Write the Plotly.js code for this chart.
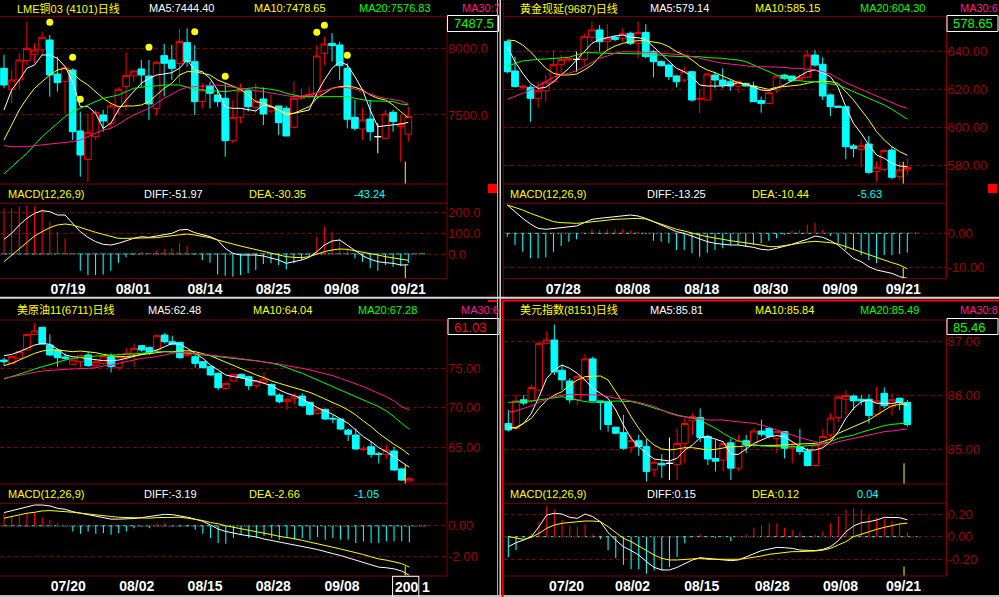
<!DOCTYPE html>
<html>
<head>
<meta charset="utf-8">
<script src="https://cdn.plot.ly/plotly-3.0.1.min.js"></script>
<style>
html,body{margin:0;padding:0;background:#000;overflow:hidden;}
#chart{width:999px;height:597px;}
</style>
</head>
<body>
<div id="chart"></div>
<script>
// ===================== DATA =====================
// ---- Top-left: LME铜03 ----
const tlOpen  = [7850,7692.5,7762.5,7907.5,7955,7987.5,8062.5,7807.5,7750,7837.5,7380,7167.5,7337.5,7500,7437.5,7562.5,7712.5,7792.5,7845,7792.5,7550,7945,7912.5,7887.5,8042.5,7900,7600,7717.5,7650,7625,7307.5,7482.5,7682.5,7555,7620,7530,7567.5,7550,7407.5,7625,7637.5,7650,7962.5,8037.5,8025,7850,7482.5,7395,7470,7337.5,7325,7520,7412.5,7355];
const tlHigh  = [7950,7837.5,7962.5,8200,8037.5,8125,8100,7937.5,7875,7850,7525,7512.5,7537.5,7537.5,7587.5,7707.5,7970,7837.5,7912.5,7912.5,7905,8032.5,8025,8145,8150,8025,7737.5,7750,7687.5,7737.5,7612.5,7737.5,7687.5,7737.5,7707.5,7650,7567.5,7567.5,7750,7700,7712.5,8025,8087.5,8112.5,8050,7887.5,7612.5,7550,7612.5,7437.5,7537.5,7537.5,7500,7562.5];
const tlLow   = [7700,7587.5,7687.5,7875,7887.5,7950,7637.5,7675,7512.5,7312.5,7037.5,7000,7312.5,7375,7400,7500,7537.5,7750,7712.5,7462.5,7500,7637.5,7762.5,7737.5,7862.5,7500,7550,7550,7562.5,7187.5,7287.5,7437.5,7525,7512.5,7425,7512.5,7350,7342.5,7400,7612.5,7625,7637.5,7875,7900,7762.5,7400,7382.5,7312.5,7307.5,7212.5,7317.5,7375,7150,7300];
const tlClose = [7725,7762.5,7912.5,8000,7987.5,8082.5,7800,7742.5,7855,7375,7200,7370,7520,7455,7567.5,7692.5,7795,7830,7800,7582.5,7895,7887.5,7850,8050,7900,7600,7687.5,7662.5,7600,7307.5,7482.5,7682.5,7562.5,7605,7507.5,7562.5,7442.5,7342.5,7625,7637.5,7655,7942.5,8032.5,8020,7870,7467.5,7400,7462.5,7375,7337.5,7507.5,7450,7432.5,7487.5];
const tlMA5   = [7537.5,7687.5,7762.5,7850,7875,7950,7950,7925,7862.5,7750,7562.5,7562.5,7512.5,7400,7437.5,7537.5,7612.5,7675,7737.5,7775,7800,7807.5,7817.5,7850,7912.5,7837.5,7825,7775,7687.5,7557.5,7550,7550,7537.5,7530,7575,7562.5,7537.5,7500,7512.5,7525,7537.5,7662.5,7762.5,7850,7900,7875,7787.5,7687.5,7537.5,7412.5,7417.5,7425,7432.5,7444.4];
const tlMA10  = [7312.5,7425,7537.5,7625,7700,7750,7800,7837.5,7850,7812.5,7762.5,7725,7675,7625,7587.5,7562.5,7567.5,7567.5,7575,7600,7650,7700,7737.5,7800,7825,7825,7812.5,7800,7762.5,7737.5,7712.5,7692.5,7650,7600,7587.5,7567.5,7537.5,7512.5,7512.5,7537.5,7562.5,7625,7662.5,7700,7712.5,7717.5,7707.5,7687.5,7650,7625,7612.5,7575,7525,7478.65];
const tlMA20  = [7057.5,7112.5,7162.5,7212.5,7275,7337.5,7387.5,7437.5,7487.5,7525,7550,7575,7600,7625,7637.5,7650,7675,7700,7707.5,7717.5,7717.5,7725,7725,7725,7707.5,7692.5,7687.5,7682.5,7675,7675,7682.5,7692.5,7700,7705,7700,7692.5,7682.5,7662.5,7650,7637.5,7637.5,7637.5,7642.5,7642.5,7642.5,7637.5,7625,7612.5,7605,7605,7605,7600,7582.5,7576.83];
const tlMA30  = [7270,7262.5,7262.5,7262.5,7270,7275,7282.5,7287.5,7295,7300,7312.5,7337.5,7362.5,7387.5,7400,7430,7467.5,7500,7525,7550,7587.5,7625,7655,7687.5,7707.5,7712.5,7717.5,7725,7725,7717.5,7707.5,7700,7692.5,7682.5,7675,7662.5,7655,7645,7637.5,7642.5,7650,7667.5,7682.5,7700,7707.5,7705,7695,7675,7655,7637.5,7625,7612.5,7605,7582.5];
const tlDiff  = [70.4,99.2,139.2,171.2,195.2,208,203.2,187.2,187.2,147.2,107.2,80,59.2,46.4,43.2,51.2,64,75.2,83.2,80,86.4,91.2,99.2,115.2,118.4,102.4,91.2,83.2,67.2,27.2,3.2,-4.8,-4.8,-4.8,-9.6,-20.8,-28.8,-44.8,-36.8,-28.8,-16,11.2,43.2,62.4,67.2,43.2,16,-8,-25.6,-36.8,-41.6,-44.8,-52.8,-51.97];
const tlDea   = [-36.8,-4.8,27.2,59.2,86.4,107.2,126.4,139.2,144,139.2,126.4,115.2,104,94.4,83.2,75.2,75.2,75.2,78.4,75.2,78.4,83.2,88,94.4,96,91.2,86.4,78.4,67.2,56,48,38.4,30.4,22.4,11.2,3.2,-4.8,-12.8,-16,-17.6,-12.8,0,11.2,19.2,24,22.4,16,11.2,3.2,-4.8,-12.8,-17.6,-25.6,-30.35];
const tlMacd  = [219,219,227,230,227,214,155,107,75,5,-80,-101,-101,-98,-80,-42,-16,-5,11,6,16,24,27,51,40,-2,-29,-42,-98,-104,-109,-101,-93,-77,-48,-45,-53,-74,-45,-29,-10,83,131,104,75,27,-21,-37,-69,-80,-53,-61,-58,-43.24];
const tlSignalIdx   = [6,9,10,19,25,29,41,42,45];
const tlSignalPrice = [8195,7932.5,7617.5,8007.5,8125,7790,8120,8172.5,7947.5];
const tlTickPos  = [8.4,16.95,26.35,35.3,44.25,53];
const tlTickText = ['07/19','08/01','08/14','08/25','09/08','09/21'];
const tlPriceTicks = [8000,7500];
const tlMacdTicks  = [200,100,0];
const tlHeader = ['LME铜03 (4101)日线','MA5:7444.40','MA10:7478.65','MA20:7576.83','MA30:7'];
const tlMacdHeader = ['MACD(12,26,9)','DIFF:-51.97','DEA:-30.35','-43.24'];
const tlLast = '7487.5';
const tlCursor = [52.6, 7150, -52.8];

// ---- Top-right: 黄金现延 ----
const trOpen  = [645.3,629.8,621.1,621.1,615.3,619.3,624.1,633.3,635.6,635.9,635.9,647.6,651.5,645.3,647.6,647.1,649.7,644.4,650.2,640.0,634.7,632.9,627.1,625.0,629.4,614.8,614.4,627.6,625.0,624.1,621.8,623.2,621.8,614.1,612.6,619.7,627.6,627.1,625.4,626.4,638.2,633.3,617.1,611.2,610.9,590.1,588.3,591.1,576.5,577.7,587.9,573.8,577.4];
const trHigh  = [646.2,637.4,622.3,622.3,624.1,627.6,640.9,638.2,637.0,640.0,649.7,655.9,654.1,654.6,648.5,652.3,650.6,655.9,654.6,640.9,635.6,633.8,627.6,632.1,629.4,620.1,628.5,629.4,631.2,625.0,625.0,623.6,624.1,616.2,618.8,627.6,628.2,627.1,628.2,640.9,640.9,637.0,617.9,611.2,610.9,591.1,593.6,595.4,581.8,588.3,589.7,581.8,583.5];
const trLow   = [628.5,621.1,620.1,602.9,610.5,613.5,623.2,627.6,634.7,629.4,632.9,645.3,640.0,640.0,645.5,645.3,643.5,636.5,636.5,626.4,632.1,625.0,621.1,623.6,613.5,607.4,614.1,620.6,620.6,619.3,618.3,621.5,613.5,607.7,612.3,618.3,625.0,624.1,624.6,625.9,632.1,614.4,605.9,610.5,583.0,584.1,579.1,575.2,571.2,576.5,572.4,572.1,574.7];
const trClose = [629.4,621.5,621.8,615.3,619.3,623.8,633.3,635.9,636.3,635.9,647.9,651.5,645.3,647.1,646.5,649.7,644.4,650.2,637.4,634.7,632.6,626.8,624.1,629.4,614.4,615.3,628.2,625.0,622.3,621.8,624.1,621.8,613.5,612.6,618.3,627.1,625.9,624.6,626.4,638.2,632.9,616.5,610.9,610.5,589.7,588.8,590.2,576.1,578.8,587.6,573.5,577.4,578.65];
const trMA5   = [642.64,634.70,628.53,623.23,620.59,621.11,624.11,627.64,631.17,635.59,640.00,644.41,646.53,647.59,648.29,648.82,647.59,647.41,646.53,642.64,638.76,634.70,631.17,629.41,626.76,622.35,621.82,621.82,621.82,622.35,623.59,622.88,621.11,619.70,619.35,620.59,622.35,624.64,627.11,629.41,630.29,628.88,626.76,621.11,610.88,602.06,596.76,590.59,585.29,583.53,580.88,579.47,579.14];
const trMA10  = [646.17,645.82,643.53,640.00,635.59,631.17,628.53,627.64,627.64,628.17,630.29,632.94,637.35,640.88,643.00,644.41,645.29,645.82,645.82,645.29,644.41,642.64,640.00,638.23,635.59,632.41,630.29,628.88,627.11,625.00,623.59,622.70,621.82,620.59,620.06,621.11,621.47,621.82,622.35,623.23,624.11,624.11,624.11,623.23,618.82,614.41,609.12,603.82,597.64,593.23,589.70,587.06,585.15];
const trMA20  = [632.06,633.82,635.06,635.59,635.94,636.12,636.47,636.47,637.00,638.23,639.47,639.47,639.11,639.11,639.11,639.11,639.11,639.11,638.76,638.23,638.23,637.70,637.35,637.35,637.35,637.35,636.82,636.82,636.47,635.94,635.59,634.70,632.94,631.17,629.41,627.64,626.41,625.00,624.64,624.11,624.11,623.59,623.23,622.35,620.59,618.82,617.06,615.29,613.53,611.76,609.47,606.99,604.30];
const trMA30  = [614.76,616.17,617.94,619.70,621.82,624.11,626.41,627.64,628.53,629.94,632.06,634.35,636.47,637.70,639.11,640.00,640.00,639.65,639.65,639.47,639.11,639.11,638.76,638.23,637.35,636.47,635.59,634.70,633.82,633.47,632.94,632.41,632.06,632.06,632.06,631.70,631.70,631.17,631.17,630.64,630.29,629.41,628.17,625.88,623.59,621.82,620.06,617.94,616.17,614.41,612.65,611.24,610.00];
const trDiff  = [8.33,6.37,4.41,2.74,1.47,1.18,1.47,1.76,1.96,2.16,3.14,4.12,4.41,4.70,4.90,5.19,5.39,5.10,4.41,3.43,2.45,1.47,0.49,0,-0.78,-1.76,-2.45,-2.94,-3.23,-3.43,-3.43,-3.72,-4.12,-4.70,-4.90,-4.41,-3.92,-3.23,-2.45,-1.76,-0.78,-1.18,-2.16,-3.43,-5.39,-7.35,-8.33,-9.80,-10.78,-11.27,-11.76,-12.74,-13.25];
const trDea   = [8.33,7.64,6.86,5.88,5.10,4.12,3.43,3.14,2.94,2.94,3.14,3.43,3.72,3.92,4.12,4.21,4.41,4.41,4.21,3.43,2.74,1.96,1.18,0.69,0,-0.49,-0.98,-1.47,-1.76,-2.16,-2.45,-2.74,-3.14,-3.43,-3.92,-3.92,-3.63,-3.23,-2.94,-2.55,-2.35,-2.45,-2.74,-3.14,-3.92,-4.90,-5.68,-6.37,-7.06,-7.84,-8.62,-9.31,-10.44];
const trMacd  = [-1.0,-3.43,-5.39,-7.35,-7.35,-7.06,-5.39,-3.72,-2.45,-1.76,0,1.18,0.98,1.18,1.27,1.18,0.78,0.49,-0.29,-2.16,-2.5,-2.94,-4.9,-4.9,-5.88,-6.86,-5.68,-4.9,-4.41,-3.43,-3.43,-3.92,-3.43,-2.94,-2.16,-1.47,-0.49,0.78,0.98,2.45,3.14,0.98,-0.78,-2.94,-4.9,-4.9,-6.37,-7.84,-8.82,-6.37,-6.37,-6.08,-5.63];
const trTickPos  = [7.28,16.3,25.27,34.24,43.25,51.48];
const trTickText = ['07/28','08/08','08/18','08/30','09/09','09/21'];
const trPriceTicks = [640,620,600,580];
const trMacdTicks  = [0,-10];
const trHeader = ['黄金现延(9687)日线','MA5:579.14','MA10:585.15','MA20:604.30','MA30:6'];
const trMacdHeader = ['MACD(12,26,9)','DIFF:-13.25','DEA:-10.44','-5.63'];
const trLast = '578.65';
const trCursor = [51.47, 581.8, -10.2];

// ---- Bottom-left: 美原油11 ----
const blOpen  = [76.05,75.63,76.27,77.32,79.30,80.19,77.95,77.32,76.44,75.51,75.84,76.69,75.34,75.63,76.48,75.08,76.35,76.90,77.87,77.62,77.32,79.22,78.38,78.29,76.60,76.48,75.84,75.21,74.37,72.47,73.40,74.24,73.94,72.81,73.23,72.97,71.62,70.78,71.20,71.50,70.70,69.30,69.81,68.67,68.59,67.19,66.56,64.71,65.08,64.20,64.11,64.54,62.26,60.74];
const blHigh  = [76.35,76.60,77.19,79.43,80.70,80.27,79.30,77.45,76.90,76.27,76.77,77.11,76.05,76.69,76.90,76.90,77.53,78.16,77.95,77.74,79.30,79.43,79.13,78.38,77.19,76.69,75.93,75.34,74.49,73.23,74.28,74.37,74.07,73.52,74.49,73.10,71.84,71.20,71.84,71.84,70.78,69.94,69.94,69.09,68.67,67.40,67.40,65.21,65.72,64.45,65.30,65.08,62.43,61.29];
const blLow   = [75.42,75.55,76.18,77.19,79.22,77.95,76.60,75.21,76.05,75.42,75.08,75.21,75.21,75.42,74.49,74.79,76.05,75.21,77.11,76.69,77.03,78.16,77.95,76.18,76.48,75.08,75.00,74.07,72.26,72.26,73.31,73.65,72.26,72.47,73.10,71.54,70.57,69.73,70.44,70.15,69.01,69.09,68.46,68.04,67.19,65.80,64.66,64.54,63.69,62.97,63.52,62.00,60.74,60.65];
const blClose = [75.84,76.48,77.11,79.30,79.73,78.08,76.69,76.35,76.27,76.05,76.60,75.34,75.84,76.56,75.21,76.48,76.90,77.53,77.32,77.03,79.13,78.38,78.04,76.35,76.90,75.63,75.08,74.16,72.55,73.10,74.24,73.82,72.81,73.40,73.65,71.62,70.78,71.08,71.50,70.27,69.18,69.85,68.59,68.59,67.32,66.65,64.79,64.79,64.11,64.11,64.66,62.13,60.86,61.03];
const blMA5   = [76.60,76.77,77.11,77.53,77.95,78.16,78.04,77.45,76.69,76.48,76.35,76.27,76.05,75.97,75.97,76.05,76.27,76.48,76.77,77.03,77.32,77.74,78.16,78.04,77.53,76.90,76.27,75.42,74.79,74.16,73.94,73.82,73.52,73.40,73.10,72.81,72.26,71.84,71.54,71.12,70.57,70.02,69.60,69.18,68.59,68.04,67.19,66.35,65.72,64.96,64.45,63.82,63.19,62.48];
const blMA10  = [75.34,75.63,76.05,76.48,76.90,77.19,77.32,77.32,77.19,77.11,77.19,77.11,76.98,76.77,76.60,76.48,76.48,76.60,76.77,76.90,77.03,77.11,77.11,77.19,77.24,77.11,76.90,76.60,76.18,75.76,75.34,74.92,74.49,74.16,73.82,73.40,73.10,72.81,72.60,72.26,71.96,71.54,71.12,70.70,70.23,69.73,69.09,68.33,67.62,66.77,66.06,65.38,64.79,64.04];
const blMA20  = [73.65,73.94,74.24,74.58,74.92,75.21,75.51,75.76,76.05,76.27,76.39,76.48,76.56,76.60,76.69,76.77,76.81,76.81,76.90,77.03,77.11,77.11,77.11,77.03,76.90,76.77,76.69,76.60,76.48,76.35,76.27,76.14,76.05,75.97,75.84,75.63,75.42,75.08,74.79,74.37,73.94,73.52,73.10,72.68,72.26,71.84,71.41,70.99,70.57,70.15,69.60,68.88,68.04,67.28];
const blMA30  = [73.73,73.94,74.16,74.28,74.49,74.66,74.70,74.79,74.87,74.92,74.92,75.00,75.08,75.30,75.42,75.63,75.84,76.05,76.27,76.35,76.48,76.69,76.90,77.03,77.03,76.90,76.77,76.69,76.56,76.48,76.35,76.27,76.14,75.97,75.84,75.72,75.55,75.34,75.21,75.00,74.79,74.58,74.37,74.07,73.73,73.40,73.10,72.68,72.26,71.84,71.41,70.87,70.15,69.73];
const blDiff  = [0.85,0.98,1.06,1.23,1.34,1.34,1.28,1.13,1.06,0.91,0.81,0.74,0.64,0.55,0.43,0.43,0.43,0.47,0.53,0.60,0.70,0.74,0.72,0.64,0.55,0.43,0.28,0.06,-0.21,-0.36,-0.47,-0.57,-0.64,-0.72,-0.85,-0.94,-1.06,-1.15,-1.21,-1.32,-1.43,-1.53,-1.64,-1.79,-1.91,-2.06,-2.21,-2.38,-2.55,-2.66,-2.70,-2.77,-2.91,-3.19];
const blDea   = [0.49,0.60,0.70,0.81,0.87,0.96,0.98,0.96,0.91,0.87,0.81,0.74,0.70,0.64,0.60,0.55,0.53,0.49,0.49,0.49,0.53,0.55,0.55,0.55,0.49,0.43,0.34,0.21,0.13,0,-0.09,-0.21,-0.30,-0.40,-0.47,-0.57,-0.68,-0.74,-0.83,-0.94,-1.04,-1.15,-1.26,-1.38,-1.49,-1.60,-1.70,-1.85,-2.00,-2.13,-2.21,-2.34,-2.43,-2.66];
const blMacd  = [0.81,0.64,0.64,0.81,0.91,0.55,0.38,0.17,0.02,-0.36,-0.51,-0.36,-0.51,-0.47,-0.57,-0.47,-0.36,-0.15,-0.04,-0.15,0.17,0.17,0.02,-0.04,-0.04,-0.26,-0.51,-0.79,-1.11,-1.15,-0.79,-0.57,-0.79,-0.79,-0.64,-0.79,-0.89,-0.79,-0.89,-0.79,-0.89,-0.72,-0.89,-0.79,-0.89,-0.89,-1.11,-1.0,-1.11,-1.11,-1.0,-1.0,-1.0,-1.05];
const blTickPos  = [8.4,17.35,26.3,35.2,44.2];
const blTickText = ['07/20','08/02','08/15','08/28','09/08'];
const blPriceTicks = [75,70,65];
const blMacdTicks  = [0,-2];
const blHeader = ['美原油11(6711)日线','MA5:62.48','MA10:64.04','MA20:67.28','MA30:6'];
const blMacdHeader = ['MACD(12,26,9)','DIFF:-3.19','DEA:-2.66','-1.05'];
const blLast = '61.03';
const blCursor = [52.46, 62.76, -2.6];
const blDateBox = ['200','1'];

// ---- Bottom-right: 美元指数 ----
const brOpen  = [85.48,85.39,85.92,85.90,86.10,86.97,87.03,86.47,86.27,85.92,86.29,86.68,85.90,85.89,85.41,85.31,85.03,85.16,85.05,84.62,84.74,84.74,84.72,85.11,85.53,85.59,85.24,84.83,84.80,85.12,84.65,85.16,85.08,85.34,85.39,85.20,85.33,85.02,85.05,84.97,84.70,85.08,85.27,85.59,85.93,85.99,85.93,85.93,85.65,86.04,85.79,85.95,85.87];
const brHigh  = [85.73,86.02,86.01,86.20,87.00,87.19,87.32,86.57,86.32,86.38,86.77,86.72,85.90,85.90,85.42,85.64,85.27,85.27,85.19,84.80,84.91,85.22,85.39,85.59,85.67,85.76,85.27,85.17,85.14,85.20,85.27,85.27,85.39,85.55,85.40,85.34,85.34,85.14,85.38,85.02,85.11,85.38,85.67,86.01,86.10,86.02,86.01,86.02,86.16,86.15,86.04,85.96,85.92];
const brLow   = [85.33,85.36,85.82,85.86,86.07,86.95,86.38,86.10,85.86,85.82,86.26,85.89,85.36,85.33,85.28,84.99,84.93,84.88,84.40,84.49,84.47,84.43,84.43,84.74,85.27,85.14,84.71,84.59,84.59,84.43,84.60,84.93,85.02,85.24,85.20,84.93,84.83,84.74,84.90,84.68,84.68,85.05,85.14,85.51,85.64,85.73,85.82,85.48,85.61,85.76,85.63,85.73,85.42];
const brClose = [85.36,85.90,85.86,86.15,86.97,87.03,86.44,86.29,85.92,86.35,86.68,85.90,85.87,85.46,85.30,85.02,85.16,85.05,84.59,84.76,84.71,84.74,85.11,85.48,85.61,85.22,84.82,84.78,85.11,84.65,85.16,85.09,85.34,85.28,85.24,85.33,85.02,85.05,84.96,84.70,85.08,85.24,85.58,85.97,86.00,85.90,85.90,85.63,85.90,85.81,85.92,85.87,85.46];
const brMA5   = [85.421,85.390,85.483,85.669,85.978,86.319,86.474,86.567,86.505,86.412,86.288,86.133,86.040,85.947,85.731,85.452,85.204,85.050,84.926,84.820,84.802,84.784,84.833,84.988,85.080,85.217,85.235,85.192,85.142,84.907,84.907,85.006,85.111,85.173,85.235,85.254,85.235,85.142,85.050,84.988,84.988,85.031,85.142,85.328,85.576,85.762,85.886,85.917,85.855,85.855,85.855,85.873,85.81];
const brMA10  = [85.390,85.409,85.483,85.576,85.762,85.917,86.009,86.071,86.195,86.288,86.350,86.362,86.362,86.288,86.071,85.855,85.607,85.390,85.204,85.080,85.006,84.988,85.006,85.031,85.031,85.006,84.988,85.000,85.018,85.050,85.050,85.068,85.080,85.068,85.068,85.080,85.080,85.093,85.099,85.099,85.111,85.142,85.192,85.297,85.359,85.421,85.483,85.545,85.638,85.731,85.811,85.836,85.84];
const brMA20  = [85.873,85.873,85.886,85.898,85.917,85.935,85.960,85.978,85.947,85.917,85.886,85.873,85.873,85.886,85.898,85.898,85.886,85.855,85.811,85.762,85.712,85.669,85.638,85.607,85.576,85.545,85.464,85.390,85.297,85.217,85.155,85.111,85.080,85.062,85.050,85.050,85.050,85.050,85.050,85.068,85.080,85.111,85.142,85.204,85.235,85.266,85.316,85.359,85.402,85.440,85.464,85.483,85.49];
const brMA30  = [85.687,85.712,85.762,85.805,85.873,85.935,85.978,86.009,86.022,86.022,86.022,86.022,86.009,85.978,85.947,85.917,85.898,85.873,85.836,85.793,85.731,85.669,85.625,85.607,85.576,85.563,85.545,85.545,85.545,85.526,85.514,85.495,85.483,85.452,85.402,85.359,85.316,85.266,85.217,85.173,85.142,85.111,85.093,85.142,85.173,85.204,85.235,85.266,85.297,85.328,85.341,85.359,85.378];
const brDiff  = [-0.089,-0.053,-0.030,0,0.089,0.193,0.207,0.201,0.172,0.163,0.201,0.178,0.133,0.036,-0.030,-0.089,-0.124,-0.163,-0.222,-0.273,-0.296,-0.296,-0.273,-0.237,-0.207,-0.187,-0.193,-0.201,-0.201,-0.213,-0.207,-0.178,-0.148,-0.124,-0.110,-0.095,-0.098,-0.104,-0.119,-0.124,-0.124,-0.113,-0.089,-0.036,0.044,0.095,0.124,0.133,0.148,0.172,0.172,0.169,0.15];
const brDea   = [0,-0.015,-0.024,-0.006,0.030,0.074,0.104,0.119,0.127,0.133,0.139,0.139,0.133,0.089,0.036,-0.015,-0.044,-0.083,-0.124,-0.163,-0.193,-0.207,-0.207,-0.201,-0.199,-0.193,-0.201,-0.201,-0.201,-0.207,-0.201,-0.193,-0.184,-0.172,-0.157,-0.148,-0.142,-0.133,-0.133,-0.133,-0.127,-0.119,-0.104,-0.074,-0.044,0,0.024,0.044,0.065,0.083,0.098,0.113,0.12];
const brMacd  = [-0.18,-0.12,-0.01,0.03,0.13,0.27,0.24,0.15,0.10,0.09,0.11,0.02,-0.02,-0.12,-0.19,-0.25,-0.29,-0.29,-0.33,-0.30,-0.30,-0.27,-0.18,-0.06,0,0.02,0,-0.01,0,-0.04,0,0.02,0.08,0.10,0.12,0.12,0.08,0.06,0.04,0,0.02,0.05,0.12,0.18,0.24,0.25,0.24,0.19,0.17,0.16,0.14,0.12,0.04];
const brTickPos  = [7.6,16.2,25.2,34.4,43.3,51.5];
const brTickText = ['07/20','08/02','08/15','08/28','09/08','09/21'];
const brPriceTicks = [87,86,85];
const brMacdTicks  = [0.2,0,-0.2];
const brHeader = ['美元指数(8151)日线','MA5:85.81','MA10:85.84','MA20:85.49','MA30:8'];
const brMacdHeader = ['MACD(12,26,9)','DIFF:0.15','DEA:0.12','0.04'];
const brLast = '85.46';
const brCursor = [51.57, 84.74, -0.267];

// ===================== STYLE / GEOMETRY =====================
const W = 999, H = 597;
const PX = x => x / W;
const PY = y => 1 - y / H;
const COL = {red:'#ff0000', cyan:'#00ffff', white:'#ffffff', yellow:'#ffff00', green:'#00ff00', pink:'#ff1a8c',
             border:'#800000', grid:'#800000', label:'#a00000', sep:'#d8d8d8'};
const FONT = 'Liberation Sans, Arial, Noto Sans CJK SC, sans-serif';
const NARROW = 'Liberation Sans Narrow, Liberation Sans, Arial, sans-serif';

const panels = [
  {n:1, open:tlOpen, high:tlHigh, low:tlLow, close:tlClose, ma:[tlMA5,tlMA10,tlMA20,tlMA30], diff:tlDiff, dea:tlDea, macd:tlMacd,
   tickPos:tlTickPos, tickText:tlTickText, pTicks:tlPriceTicks, pFmt:1, mTicks:tlMacdTicks, mFmt:1,
   header:tlHeader, mHeader:tlMacdHeader, last:tlLast, lastColor:COL.green, cursor:tlCursor,
   g:{xL:0, xR:447, x0:4, dx:7.629, mT:16.7, mB:184, sT:203.3, sB:278.7, hdr:8, shdr:194,
      yr:[6982.5,8237], sr:[-118.6,243.4], hx:[16,148,253,358,461], sx:[7,143,248,353], box:[447.5,498.5,15.5,31.5], zEnd:2.4}},
  {n:3, open:trOpen, high:trHigh, low:trLow, close:trClose, ma:[trMA5,trMA10,trMA20,trMA30], diff:trDiff, dea:trDea, macd:trMacd,
   tickPos:trTickPos, tickText:trTickText, pTicks:trPriceTicks, pFmt:2, mTicks:trMacdTicks, mFmt:2,
   header:trHeader, mHeader:trMacdHeader, last:trLast, lastColor:COL.green, cursor:trCursor,
   g:{xL:503.3, xR:946.5, x0:507.33, dx:7.692, mT:16.7, mB:184, sT:203.3, sB:278.7, hdr:8, shdr:194,
      yr:[569.94,658.51], sr:[-13.34,8.83], hx:[519,649,754,859,959], sx:[509,646,751,856], box:[947,998,15.5,31.5], zEnd:1.6}},
  {n:5, open:blOpen, high:blHigh, low:blLow, close:blClose, ma:[blMA5,blMA10,blMA20,blMA30], diff:blDiff, dea:blDea, macd:blMacd,
   tickPos:blTickPos, tickText:blTickText, pTicks:blPriceTicks, pFmt:2, mTicks:blMacdTicks, mFmt:2,
   header:blHeader, mHeader:blMacdHeader, last:blLast, lastColor:COL.red, cursor:blCursor,
   g:{xL:0, xR:447, x0:4, dx:7.648, mT:320, mB:484, sT:503.3, sB:576, hdr:309.5, shdr:493.5,
      yr:[60.36,81.12], sr:[-3.23,1.449], hx:[16,147,252,357,460], sx:[7,143,248,353], box:[448,499,318.5,334.5], zEnd:2.3}},
  {n:7, open:brOpen, high:brHigh, low:brLow, close:brClose, ma:[brMA5,brMA10,brMA20,brMA30], diff:brDiff, dea:brDea, macd:brMacd,
   tickPos:brTickPos, tickText:brTickText, pTicks:brPriceTicks, pFmt:2, mTicks:brMacdTicks, mFmt:2,
   header:brHeader, mHeader:brMacdHeader, last:brLast, lastColor:COL.green, cursor:brCursor,
   g:{xL:503.5, xR:946.5, x0:508.33, dx:7.673, mT:320, mB:484, sT:503.3, sB:576, hdr:309.5, shdr:493.5,
      yr:[84.356,87.4025], sr:[-0.3496,0.2966], hx:[519,649,754,859,959], sx:[509,646,751,856], box:[947,998,318.5,334.5], zEnd:1.8}}
];

const traces = [];
const layout = {
  width: W, height: H, margin:{l:0,r:0,t:0,b:0,pad:0},
  paper_bgcolor:'#000000', plot_bgcolor:'#000000',
  showlegend:false, hovermode:false, dragmode:false,
  boxgap:0.13, boxgroupgap:0,
  annotations:[], shapes:[]
};

function fmtTick(v, d){ return v.toFixed(d); }
function hline(y, x0, x1, color, width, dash){
  layout.shapes.push({type:'line', xref:'paper', yref:'paper', x0:PX(x0), x1:PX(x1), y0:PY(y), y1:PY(y), line:{color, width:width||1, dash:dash||'solid'}, layer:'above'});
}
function vline(x, y0, y1, color, width){
  layout.shapes.push({type:'line', xref:'paper', yref:'paper', x0:PX(x), x1:PX(x), y0:PY(y0), y1:PY(y1), line:{color, width:width||1}, layer:'above'});
}
function text(t, x, y, color, font, size, weight){
  layout.annotations.push({xref:'paper', yref:'paper', x:PX(x), y:PY(y), xanchor:'left', yanchor:'middle', showarrow:false,
    text:t, borderpad:0, font:{family:font||FONT, size:size||11, color, weight:weight||'normal'}});
}

panels.forEach(P => {
  const g = P.g;
  const mx = P.n === 1 ? 'x' : 'x' + P.n, my = P.n === 1 ? 'y' : 'y' + P.n;
  const sx = 'x' + (P.n + 1), sy = 'y' + (P.n + 1);
  const axName = a => a.replace('x','xaxis').replace('y','yaxis');
  const idx = P.open.map((_, i) => i);
  const xr = [(g.xL - g.x0) / g.dx, (g.xR - g.x0) / g.dx];
  const norm = idx.filter(i => P.open[i] !== P.close[i]);
  const doji = idx.filter(i => P.open[i] === P.close[i]);
  const pick = (arr, ids) => ids.map(i => arr[i]);

  traces.push({type:'candlestick', xaxis:mx, yaxis:my, x:norm,
    open:pick(P.open,norm), high:pick(P.high,norm), low:pick(P.low,norm), close:pick(P.close,norm),
    increasing:{line:{color:COL.red, width:1}, fillcolor:'#000000'},
    decreasing:{line:{color:COL.cyan, width:1}, fillcolor:COL.cyan},
    whiskerwidth:0, hoverinfo:'skip'});
  if (doji.length) traces.push({type:'candlestick', xaxis:mx, yaxis:my, x:doji,
    open:pick(P.open,doji), high:pick(P.high,doji), low:pick(P.low,doji), close:pick(P.close,doji),
    increasing:{line:{color:COL.white, width:1}, fillcolor:COL.white},
    decreasing:{line:{color:COL.white, width:1}, fillcolor:COL.white},
    whiskerwidth:0, hoverinfo:'skip'});

  const maCols = [COL.white, COL.yellow, COL.green, COL.pink];
  P.ma.forEach((arr, k) => traces.push({type:'scatter', mode:'lines', xaxis:mx, yaxis:my, x:idx, y:arr,
    line:{color:maCols[k], width:1}, hoverinfo:'skip'}));

  if (P.n === 1) traces.push({type:'scatter', mode:'markers', xaxis:mx, yaxis:my, x:tlSignalIdx, y:tlSignalPrice,
    marker:{color:COL.yellow, size:7, line:{width:0}}, hoverinfo:'skip'});

  traces.push({type:'bar', xaxis:sx, yaxis:sy, x:idx, y:P.macd, width:0.14,
    marker:{color:P.macd.map(v => v >= 0 ? COL.red : COL.cyan), line:{width:0}}, hoverinfo:'skip'});
  traces.push({type:'scatter', mode:'lines', xaxis:sx, yaxis:sy, x:idx, y:P.diff, line:{color:COL.white, width:1}, hoverinfo:'skip'});
  traces.push({type:'scatter', mode:'lines', xaxis:sx, yaxis:sy, x:idx, y:P.dea, line:{color:COL.yellow, width:1}, hoverinfo:'skip'});

  const xdom = [PX(g.xL), PX(g.xR)];
  layout[axName(mx)] = {domain:xdom, range:xr, anchor:my, showgrid:false, zeroline:false, showticklabels:false,
    ticks:'', showline:false, fixedrange:true, rangeslider:{visible:false}};
  layout[axName(my)] = {domain:[PY(g.mB), PY(g.mT)], range:g.yr, anchor:mx, side:'right',
    tickmode:'array', tickvals:P.pTicks, ticktext:P.pTicks.map(v => fmtTick(v, P.pFmt)),
    showgrid:true, gridcolor:COL.grid, gridwidth:1, griddash:'4px,3px', zeroline:false, ticks:'', showline:false,
    tickfont:{family:NARROW, size:13, color:COL.label}, fixedrange:true};
  layout[axName(sx)] = {domain:xdom, range:xr, anchor:sy, showgrid:false, zeroline:false,
    tickmode:'array', tickvals:P.tickPos, ticktext:P.tickText, ticks:'', showline:false,
    tickfont:{family:FONT, size:14, color:COL.white, weight:'bold'}, fixedrange:true};
  layout[axName(sy)] = {domain:[PY(g.sB), PY(g.sT)], range:g.sr, anchor:sx, side:'right',
    tickmode:'array', tickvals:P.mTicks, ticktext:P.mTicks.map(v => fmtTick(v, P.mFmt)),
    showgrid:true, gridcolor:COL.grid, gridwidth:1, griddash:'4px,3px', zeroline:false, ticks:'', showline:false,
    tickfont:{family:NARROW, size:13, color:COL.label}, fixedrange:true};

  // cyan zero line of MACD histogram
  layout.shapes.push({type:'line', xref:sx, yref:sy, x0:-0.4, x1:P.open.length - 1 + g.zEnd, y0:0, y1:0,
    line:{color:COL.cyan, width:1, dash:'6px,1.6px'}, layer:'below'});
  // yellow cursor marks
  layout.shapes.push({type:'line', xref:mx, yref:my, x0:P.cursor[0], x1:P.cursor[0], y0:P.cursor[1], y1:g.yr[0], line:{color:COL.yellow, width:1}, layer:'above'});
  layout.shapes.push({type:'line', xref:sx, yref:sy, x0:P.cursor[0], x1:P.cursor[0], y0:P.cursor[2], y1:g.sr[0], line:{color:COL.yellow, width:1}, layer:'above'});

  // frame lines
  [g.mT, g.mB, g.sT, g.sB].forEach(y => hline(y, g.xL, g.xR, COL.border, 1));
  vline(g.xR, g.mT, g.sB, COL.border, 1);

  // headers
  const hc = [COL.yellow, COL.white, COL.yellow, COL.green, COL.pink];
  P.header.forEach((t, k) => text(t, g.hx[k], g.hdr, hc[k]));
  const sc = [COL.yellow, COL.white, COL.yellow, COL.cyan];
  P.mHeader.forEach((t, k) => text(t, g.sx[k], g.shdr, sc[k]));

  // last price box
  const b = g.box;
  layout.shapes.push({type:'rect', xref:'paper', yref:'paper', x0:PX(b[0]), x1:PX(b[1]), y0:PY(b[3]), y1:PY(b[2]),
    line:{color:COL.white, width:1}, fillcolor:'rgba(0,0,0,0)', layer:'above'});
  text(P.last, b[0] + 5, (b[2] + b[3]) / 2 + 0.5, P.lastColor, NARROW, 13);
});

// left border of the right column
vline(503.3, 0, 297, COL.border, 1);
// window separators
vline(497.5, 0, 597, '#b0b0b0', 1);
vline(500.2, 0, 597, COL.sep, 1.5);
hline(297.7, 0, 999, COL.sep, 2);
hline(596, 0, 999, '#c0c0c0', 2);
// active window frame (bottom-right)
vline(502.6, 299.5, 597, COL.red, 2);
hline(300.6, 502, 999, COL.red, 2);
// small red markers
layout.shapes.push({type:'rect', xref:'paper', yref:'paper', x0:PX(488), x1:PX(497), y0:PY(193), y1:PY(184), line:{width:0}, fillcolor:COL.red, layer:'above'});
layout.shapes.push({type:'rect', xref:'paper', yref:'paper', x0:PX(988), x1:PX(997), y0:PY(193), y1:PY(184), line:{width:0}, fillcolor:COL.red, layer:'above'});
layout.shapes.push({type:'rect', xref:'paper', yref:'paper', x0:PX(488), x1:PX(497), y0:PY(302), y1:PY(300), line:{width:0}, fillcolor:COL.red, layer:'above'});
// date box (bottom-left)
vline(392.6, 576, 597, COL.white, 1);
vline(418.8, 576, 597, COL.white, 1);
hline(576.3, 392.6, 418.8, COL.white, 1);
text(blDateBox[0], 394, 587, COL.white, FONT, 14, 'bold');
text(blDateBox[1], 420.5, 587, COL.white, FONT, 14, 'bold');

Plotly.newPlot('chart', traces, layout, {staticPlot:true, displayModeBar:false});
</script>
</body>
</html>
